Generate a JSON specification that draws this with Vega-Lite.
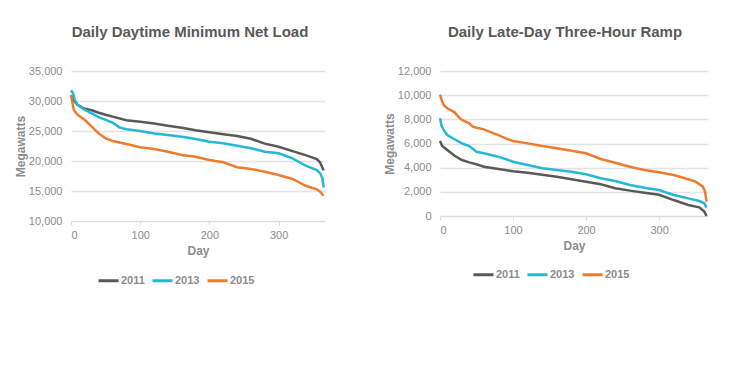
{
  "$schema": "https://vega.github.io/schema/vega-lite/v6.json",
  "padding": {"left": 14, "top": 25, "right": 5, "bottom": 5},
  "config": {
    "font": "Liberation Sans",
    "view": {"stroke": null},
    "axis": {"labelColor": "#8c8c8c", "labelFontSize": 11, "titleColor": "#8c8c8c", "titleFontSize": 12, "titleFontWeight": "bold", "gridColor": "#e3e3e3", "gridWidth": 1.5, "domainColor": "#dcdcdc", "tickColor": "#dcdcdc"},
    "title": {"fontSize": 15, "fontWeight": "bold", "color": "#595959"},
    "legend": {"labelColor": "#8c8c8c", "labelFontWeight": "bold", "labelFontSize": 11}
  },
  "datasets": {
    "load": [
      {"year": "2011", "day": 0, "mw": 31000}, {"year": "2011", "day": 3, "mw": 30200}, {"year": "2011", "day": 10, "mw": 29300}, {"year": "2011", "day": 20, "mw": 28700}, {"year": "2011", "day": 30, "mw": 28450}, {"year": "2011", "day": 40, "mw": 28050}, {"year": "2011", "day": 50, "mw": 27700}, {"year": "2011", "day": 60, "mw": 27400}, {"year": "2011", "day": 80, "mw": 26800}, {"year": "2011", "day": 100, "mw": 26550}, {"year": "2011", "day": 120, "mw": 26250}, {"year": "2011", "day": 140, "mw": 25870}, {"year": "2011", "day": 160, "mw": 25550}, {"year": "2011", "day": 180, "mw": 25120}, {"year": "2011", "day": 200, "mw": 24790}, {"year": "2011", "day": 220, "mw": 24470}, {"year": "2011", "day": 240, "mw": 24180}, {"year": "2011", "day": 260, "mw": 23700}, {"year": "2011", "day": 280, "mw": 22900}, {"year": "2011", "day": 300, "mw": 22380}, {"year": "2011", "day": 320, "mw": 21650}, {"year": "2011", "day": 340, "mw": 20930}, {"year": "2011", "day": 355, "mw": 20300}, {"year": "2011", "day": 360, "mw": 19750}, {"year": "2011", "day": 365, "mw": 18400},
      {"year": "2013", "day": 0, "mw": 31800}, {"year": "2013", "day": 3, "mw": 31300}, {"year": "2013", "day": 6, "mw": 30000}, {"year": "2013", "day": 10, "mw": 29300}, {"year": "2013", "day": 20, "mw": 28500}, {"year": "2013", "day": 30, "mw": 27950}, {"year": "2013", "day": 40, "mw": 27300}, {"year": "2013", "day": 50, "mw": 26850}, {"year": "2013", "day": 60, "mw": 26400}, {"year": "2013", "day": 70, "mw": 25600}, {"year": "2013", "day": 80, "mw": 25280}, {"year": "2013", "day": 100, "mw": 25000}, {"year": "2013", "day": 120, "mw": 24600}, {"year": "2013", "day": 140, "mw": 24330}, {"year": "2013", "day": 160, "mw": 24050}, {"year": "2013", "day": 180, "mw": 23670}, {"year": "2013", "day": 200, "mw": 23220}, {"year": "2013", "day": 220, "mw": 22950}, {"year": "2013", "day": 240, "mw": 22550}, {"year": "2013", "day": 260, "mw": 22120}, {"year": "2013", "day": 280, "mw": 21550}, {"year": "2013", "day": 300, "mw": 21280}, {"year": "2013", "day": 320, "mw": 20450}, {"year": "2013", "day": 340, "mw": 19170}, {"year": "2013", "day": 355, "mw": 18500}, {"year": "2013", "day": 360, "mw": 17950}, {"year": "2013", "day": 363, "mw": 17200}, {"year": "2013", "day": 365, "mw": 15600},
      {"year": "2015", "day": 0, "mw": 31000}, {"year": "2015", "day": 2, "mw": 29800}, {"year": "2015", "day": 4, "mw": 28500}, {"year": "2015", "day": 10, "mw": 27670}, {"year": "2015", "day": 20, "mw": 26830}, {"year": "2015", "day": 30, "mw": 25720}, {"year": "2015", "day": 40, "mw": 24600}, {"year": "2015", "day": 50, "mw": 23780}, {"year": "2015", "day": 60, "mw": 23330}, {"year": "2015", "day": 80, "mw": 22830}, {"year": "2015", "day": 100, "mw": 22300}, {"year": "2015", "day": 120, "mw": 22000}, {"year": "2015", "day": 140, "mw": 21550}, {"year": "2015", "day": 160, "mw": 21000}, {"year": "2015", "day": 180, "mw": 20720}, {"year": "2015", "day": 200, "mw": 20170}, {"year": "2015", "day": 220, "mw": 19780}, {"year": "2015", "day": 240, "mw": 18950}, {"year": "2015", "day": 260, "mw": 18670}, {"year": "2015", "day": 280, "mw": 18220}, {"year": "2015", "day": 300, "mw": 17670}, {"year": "2015", "day": 320, "mw": 17000}, {"year": "2015", "day": 340, "mw": 15830}, {"year": "2015", "day": 355, "mw": 15280}, {"year": "2015", "day": 360, "mw": 14880}, {"year": "2015", "day": 365, "mw": 14200}
    ],
    "ramp": [
      {"year": "2011", "day": 0, "mw": 6200}, {"year": "2011", "day": 3, "mw": 5800}, {"year": "2011", "day": 10, "mw": 5460}, {"year": "2011", "day": 20, "mw": 4990}, {"year": "2011", "day": 30, "mw": 4630}, {"year": "2011", "day": 40, "mw": 4440}, {"year": "2011", "day": 50, "mw": 4280}, {"year": "2011", "day": 60, "mw": 4080}, {"year": "2011", "day": 80, "mw": 3890}, {"year": "2011", "day": 100, "mw": 3700}, {"year": "2011", "day": 120, "mw": 3580}, {"year": "2011", "day": 140, "mw": 3420}, {"year": "2011", "day": 160, "mw": 3250}, {"year": "2011", "day": 180, "mw": 3050}, {"year": "2011", "day": 200, "mw": 2840}, {"year": "2011", "day": 220, "mw": 2620}, {"year": "2011", "day": 240, "mw": 2290}, {"year": "2011", "day": 260, "mw": 2100}, {"year": "2011", "day": 280, "mw": 1930}, {"year": "2011", "day": 300, "mw": 1760}, {"year": "2011", "day": 320, "mw": 1320}, {"year": "2011", "day": 340, "mw": 910}, {"year": "2011", "day": 355, "mw": 720}, {"year": "2011", "day": 362, "mw": 360}, {"year": "2011", "day": 365, "mw": 0},
      {"year": "2013", "day": 0, "mw": 8080}, {"year": "2013", "day": 2, "mw": 7500}, {"year": "2013", "day": 5, "mw": 7120}, {"year": "2013", "day": 10, "mw": 6700}, {"year": "2013", "day": 20, "mw": 6350}, {"year": "2013", "day": 30, "mw": 6010}, {"year": "2013", "day": 40, "mw": 5790}, {"year": "2013", "day": 50, "mw": 5320}, {"year": "2013", "day": 60, "mw": 5190}, {"year": "2013", "day": 80, "mw": 4910}, {"year": "2013", "day": 100, "mw": 4490}, {"year": "2013", "day": 120, "mw": 4220}, {"year": "2013", "day": 140, "mw": 3950}, {"year": "2013", "day": 160, "mw": 3810}, {"year": "2013", "day": 180, "mw": 3670}, {"year": "2013", "day": 200, "mw": 3450}, {"year": "2013", "day": 220, "mw": 3120}, {"year": "2013", "day": 240, "mw": 2900}, {"year": "2013", "day": 260, "mw": 2570}, {"year": "2013", "day": 280, "mw": 2340}, {"year": "2013", "day": 300, "mw": 2150}, {"year": "2013", "day": 320, "mw": 1740}, {"year": "2013", "day": 340, "mw": 1460}, {"year": "2013", "day": 355, "mw": 1240}, {"year": "2013", "day": 362, "mw": 1050}, {"year": "2013", "day": 365, "mw": 690},
      {"year": "2015", "day": 0, "mw": 10050}, {"year": "2015", "day": 3, "mw": 9450}, {"year": "2015", "day": 5, "mw": 9190}, {"year": "2015", "day": 10, "mw": 8910}, {"year": "2015", "day": 20, "mw": 8580}, {"year": "2015", "day": 25, "mw": 8220}, {"year": "2015", "day": 30, "mw": 7945}, {"year": "2015", "day": 40, "mw": 7670}, {"year": "2015", "day": 45, "mw": 7400}, {"year": "2015", "day": 50, "mw": 7310}, {"year": "2015", "day": 60, "mw": 7170}, {"year": "2015", "day": 70, "mw": 6920}, {"year": "2015", "day": 80, "mw": 6700}, {"year": "2015", "day": 90, "mw": 6430}, {"year": "2015", "day": 100, "mw": 6200}, {"year": "2015", "day": 120, "mw": 6010}, {"year": "2015", "day": 140, "mw": 5790}, {"year": "2015", "day": 160, "mw": 5600}, {"year": "2015", "day": 180, "mw": 5400}, {"year": "2015", "day": 200, "mw": 5190}, {"year": "2015", "day": 220, "mw": 4720}, {"year": "2015", "day": 240, "mw": 4410}, {"year": "2015", "day": 260, "mw": 4080}, {"year": "2015", "day": 280, "mw": 3810}, {"year": "2015", "day": 300, "mw": 3620}, {"year": "2015", "day": 320, "mw": 3390}, {"year": "2015", "day": 340, "mw": 3040}, {"year": "2015", "day": 350, "mw": 2840}, {"year": "2015", "day": 360, "mw": 2430}, {"year": "2015", "day": 363, "mw": 2010}, {"year": "2015", "day": 365, "mw": 1180}
    ]
  },
  "resolve": {"scale": {"color": "independent"}, "legend": {"color": "independent"}},
  "spacing": 54,
  "hconcat": [
    {
      "title": {"text": "Daily Daytime Minimum Net Load", "anchor": "middle", "dx": -8, "offset": 25},
      "width": 254,
      "height": 150,
      "data": {"name": "load"},
      "mark": {"type": "line", "strokeWidth": 2.5, "interpolate": "linear"},
      "encoding": {
        "x": {"field": "day", "type": "quantitative", "scale": {"domain": [0, 367], "nice": false}, "axis": {"title": "Day", "values": [0, 100, 200, 300], "grid": false, "tickSize": 4, "labelPadding": 4, "titlePadding": 5}},
        "y": {"field": "mw", "type": "quantitative", "scale": {"domain": [10000, 35000], "nice": false}, "axis": {"title": "Megawatts", "values": [10000, 15000, 20000, 25000, 30000, 35000], "format": ",d", "domain": false, "ticks": false, "labelPadding": 9, "titlePadding": 1}},
        "color": {"field": "year", "type": "nominal", "scale": {"domain": ["2011", "2013", "2015"], "range": ["#595959", "#22b8d6", "#ee7c2e"]},
          "legend": {"title": null, "orient": "none", "direction": "horizontal", "legendX": 26, "legendY": 198, "symbolType": "stroke", "symbolSize": 400, "symbolStrokeWidth": 3, "labelOffset": 1, "columnPadding": 1}}
      }
    },
    {
      "title": {"text": "Daily Late-Day Three-Hour Ramp", "anchor": "middle", "dx": -9, "offset": 25},
      "width": 268,
      "height": 145,
      "data": {"name": "ramp"},
      "mark": {"type": "line", "strokeWidth": 2.5, "interpolate": "linear"},
      "encoding": {
        "x": {"field": "day", "type": "quantitative", "scale": {"domain": [0, 367], "nice": false}, "axis": {"title": "Day", "values": [0, 100, 200, 300], "grid": false, "tickSize": 4, "labelPadding": 4, "titlePadding": 5}},
        "y": {"field": "mw", "type": "quantitative", "scale": {"domain": [0, 12000], "nice": false}, "axis": {"title": "Megawatts", "values": [0, 2000, 4000, 6000, 8000, 10000, 12000], "format": ",d", "domain": false, "ticks": false, "labelPadding": 9, "titlePadding": 1}},
        "color": {"field": "year", "type": "nominal", "scale": {"domain": ["2011", "2013", "2015"], "range": ["#595959", "#22b8d6", "#ee7c2e"]},
          "legend": {"title": null, "orient": "none", "direction": "horizontal", "legendX": 32, "legendY": 192, "symbolType": "stroke", "symbolSize": 400, "symbolStrokeWidth": 3, "labelOffset": 1, "columnPadding": 1}}
      }
    }
  ]
}
